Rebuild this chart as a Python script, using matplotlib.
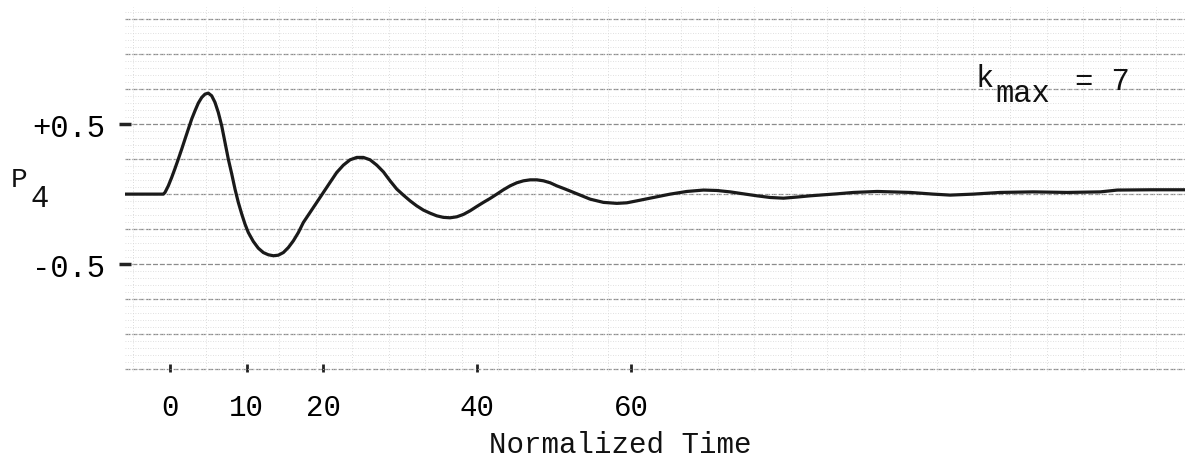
import matplotlib
matplotlib.use("Agg")
import matplotlib.pyplot as plt
import numpy as np
from matplotlib.ticker import MultipleLocator

# Data
time = [-5.8, -0.82, -0.60, -0.17, 0.27, 0.70, 1.13, 1.57, 2.0, 2.43, 2.87, 3.30,
        3.73, 4.17, 4.60, 5.03, 5.47, 5.90, 6.33, 6.77, 7.20, 7.63, 8.08, 8.50,
        8.93, 9.38, 9.80, 10.23, 10.88, 11.53, 12.18, 12.83, 13.49, 14.13, 14.79,
        15.44, 16.09, 16.74, 17.39, 19.13, 20.86, 21.73, 22.59, 23.46, 24.33,
        25.19, 26.06, 26.93, 27.79, 28.66, 29.53, 30.39, 31.26, 32.13, 32.99,
        33.86, 34.73, 35.59, 36.46, 37.33, 38.19, 39.06, 39.94, 40.79, 41.66,
        42.54, 43.39, 44.26, 45.14, 46.0, 46.87, 47.74, 48.60, 49.47, 50.34,
        51.20, 52.07, 53.37, 54.67, 56.40, 58.14, 59.44, 60.74, 62.90, 65.07,
        67.24, 69.40, 71.14, 72.87, 74.60, 76.35, 78.07, 79.80, 81.55, 83.28,
        85.01, 86.75, 88.91, 91.98, 96.28, 99.27, 101.48, 104.47, 107.98,
        112.27, 116.69, 120.99, 123.2, 127.5, 132.0]
p4 = [0.0, 0.0, 0.012, 0.059, 0.119, 0.183, 0.25, 0.321, 0.393, 0.464, 0.536,
      0.595, 0.65, 0.69, 0.714, 0.721, 0.702, 0.655, 0.583, 0.488, 0.369, 0.25,
      0.143, 0.036, -0.059, -0.143, -0.214, -0.274, -0.338, -0.386, -0.417,
      -0.433, -0.440, -0.436, -0.417, -0.381, -0.333, -0.274, -0.202, -0.059,
      0.084, 0.155, 0.207, 0.245, 0.262, 0.262, 0.245, 0.207, 0.159, 0.095,
      0.036, -0.007, -0.048, -0.084, -0.114, -0.136, -0.155, -0.166, -0.169,
      -0.162, -0.145, -0.119, -0.088, -0.059, -0.031, 0.0, 0.031, 0.059, 0.081,
      0.095, 0.102, 0.102, 0.095, 0.081, 0.059, 0.041, 0.022, -0.007, -0.036,
      -0.059, -0.066, -0.062, -0.048, -0.024, 0.0, 0.019, 0.029, 0.026, 0.016,
      0.002, -0.012, -0.024, -0.029, -0.021, -0.012, -0.005, 0.002, 0.012,
      0.019, 0.012, 0.0, -0.007, 0.0, 0.012, 0.016, 0.012, 0.016, 0.029, 0.031,
      0.031]

xtick_values = [0, 10, 20, 40, 60]
xtick_labels = ["0", "10", "20", "40", "60"]
ytick_values = [0.5, -0.5]
ytick_labels = ["+0.5", "-0.5"]

FONT = "Liberation Mono"
plt.rcParams["font.family"] = [FONT, "DejaVu Sans"]

W, H = 1185, 464
fig = plt.figure(figsize=(W / 100, H / 100), dpi=100)
ax = fig.add_axes([125 / W, (H - 373) / H, 1060 / W, 365 / H])

ax.plot(time, p4, color="#1a1a1a", lw=2.3, solid_joinstyle="round",
        solid_capstyle="round", zorder=5)

ax.set_xlim(-5.8, 132.0)
ax.set_ylim(-1.27, 1.336)

# graph paper grid
for yv in np.arange(-1.25, 1.3, 0.25):
    ax.axhline(yv, color="#8c8c8c", lw=0.9, ls=(0, (4, 1.5)), zorder=1)
ax.yaxis.set_minor_locator(MultipleLocator(0.05))
ax.xaxis.set_minor_locator(MultipleLocator(4.75))
ax.grid(True, which="minor", axis="y", color="#d6d6d6", lw=0.6, ls=(0, (1, 2)))
ax.grid(True, which="minor", axis="x", color="#d0d0d0", lw=0.6, ls=(0, (1, 2.5)))
ax.grid(False, which="major")

for s in ax.spines.values():
    s.set_visible(False)

ax.set_xticks(xtick_values)
ax.set_xticklabels(xtick_labels, fontsize=21, family=FONT)
ax.tick_params(axis="x", which="major", direction="in", length=6, width=2,
               color="#222222", pad=15)
ax.tick_params(axis="x", which="minor", length=0)

ax.set_yticks(ytick_values)
ax.set_yticklabels(ytick_labels, fontsize=22, family=FONT)
ax.tick_params(axis="y", which="major", direction="inout", length=9, width=2.5,
               color="#222222", pad=10)
ax.tick_params(axis="y", which="minor", length=0)

# axis labels (typewriter style)
fig.text(620 / W, (H - 453) / H, "Normalized Time", fontsize=21, family=FONT,
         ha="center", va="baseline", color="#111111")
fig.text(11 / W, (H - 187) / H, "P", fontsize=20, family=FONT,
         ha="left", va="baseline", color="#111111")
fig.text(30 / W, (H - 207) / H, "4", fontsize=22, family=FONT,
         ha="left", va="baseline", color="#111111")

# k_max annotation
fig.text(975 / W, (H - 87) / H, "k", fontsize=22, family=FONT,
         ha="left", va="baseline", color="#111111")
fig.text(995 / W, (H - 102) / H, "max", fontsize=22, family=FONT,
         ha="left", va="baseline", color="#111111")
fig.text(1075 / W, (H - 90) / H, "= 7", fontsize=22, family=FONT,
         ha="left", va="baseline", color="#111111")

fig.savefig("out.png", dpi=100, facecolor="white")
